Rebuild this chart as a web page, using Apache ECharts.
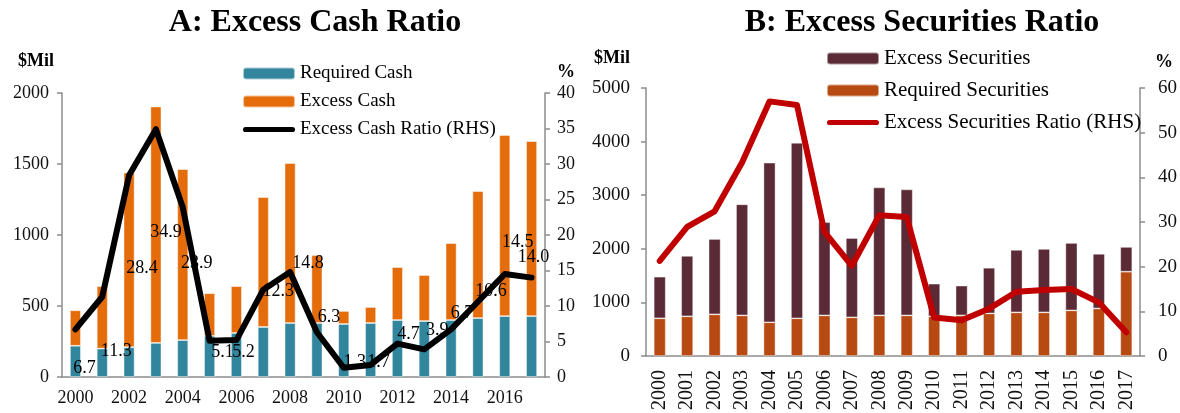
<!DOCTYPE html>
<html lang="en">
    <head>
        <meta charset="UTF-8">
        <title>Excess Cash and Securities Ratios</title>
        <style>
            *{ margin: 0; padding: 0; }
            body{ background: #fff; }
            #chart{ width: 1180px; height: 413px; }
        </style>
        <script src="https://cdn.jsdelivr.net/npm/echarts@6/dist/echarts.min.js"></script>
    </head>
    <body>
        <div id="chart"></div>
        <script>
            // data
            var years = ['2000','2001','2002','2003','2004','2005','2006','2007','2008',
                         '2009','2010','2011','2012','2013','2014','2015','2016','2017'];

            // Panel A ($Mil, %)
            var requiredCash = [220, 200, 210, 240, 260, 290, 310, 352, 380, 380, 373, 380, 401, 394, 401, 415, 429, 429];
            var excessCash   = [250, 440, 1230, 1665, 1204, 300, 330, 915, 1127, 479, 92, 113, 373, 324, 542, 894, 1275, 1232];
            var excessCashRatio = [6.7, 11.3, 28.4, 34.9, 23.9, 5.1, 5.2, 12.3, 14.8, 6.3, 1.3, 1.7, 4.7, 3.9, 6.7, 10.6, 14.5, 14.0];

            // Panel B ($Mil, %)
            var requiredSec = [703, 740, 777, 758, 629, 703, 758, 721, 758, 758, 740, 758, 795, 814, 814, 851, 888, 1573];
            var excessSec   = [777, 1128, 1406, 2072, 2978, 3274, 1739, 1480, 2387, 2350, 610, 555, 851, 1166, 1184, 1258, 1018, 462];
            var excessSecRatio = [21.3, 28.9, 32.4, 43.3, 57.0, 56.2, 27.8, 20.2, 31.5, 31.1, 8.6, 8.0, 10.6, 14.4, 14.8, 15.0, 12.0, 5.3];

            // label nudges for the ratio labels in panel A (px, layout only)
            var ratioLabelShift = [[9,39],[14,54],[13,93],[10,103],[14,56],[13,11],[7,12],[15,2],[18,-9],
                                   [12,-15],[11,-6],[8,-3],[11,-9],[13,-19],[11,-16],[13,-10],[13,-32],[2,-20]];

            var serif = '"Liberation Serif", "Times New Roman", serif';
            var axisGray = '#8c8c8c';
            var lineIcon = 'path://M5 0H95A5 5 0 0 1 95 10H5A5 5 0 0 1 5 0Z';

            function valueAxis(grid, min, max, step, pos, margin, size){
                return {
                    type: 'value', gridIndex: grid, position: pos,
                    min: min, max: max, interval: step,
                    axisLine: { show: true, lineStyle: { color: axisGray, width: 1.5 } },
                    axisTick: { show: true, length: 5, lineStyle: { color: axisGray, width: 1.5 } },
                    axisLabel: { color: '#111', fontFamily: serif, fontSize: size, margin: margin,
                                 formatter: function (v) { return String(v); } },
                    splitLine: { show: false }
                };
            }

            var chart = echarts.init(document.getElementById('chart'));
            var option = {
                animation: false,
                textStyle: { fontFamily: serif },
                title: [
                    { text: 'A: Excess Cash Ratio', left: 310, top: 2, textAlign: 'center',
                      textStyle: { fontFamily: serif, fontSize: 32, fontWeight: 'bold', color: '#000' } },
                    { text: 'B: Excess Securities Ratio', left: 917, top: 2, textAlign: 'center',
                      textStyle: { fontFamily: serif, fontSize: 32, fontWeight: 'bold', color: '#000' } }
                ],
                legend: [{
                    left: 237, top: 59, orient: 'vertical', itemWidth: 52, itemHeight: 12, itemGap: 9,
                    textStyle: { fontFamily: serif, fontSize: 19, color: '#000' },
                    data: ['Required Cash', 'Excess Cash', { name: 'Excess Cash Ratio (RHS)', icon: lineIcon }]
                },{
                    left: 821, top: 43, orient: 'vertical', itemWidth: 52, itemHeight: 12, itemGap: 11,
                    textStyle: { fontFamily: serif, fontSize: 21, color: '#000' },
                    data: ['Excess Securities', 'Required Securities', { name: 'Excess Securities Ratio (RHS)', icon: lineIcon }]
                }],
                graphic: [
                    { type: 'text', left: 18, top: 52, style: { text: '$Mil', font: 'bold 18px ' + serif, fill: '#000' } },
                    { type: 'text', left: 557, top: 63, style: { text: '%', font: 'bold 18px ' + serif, fill: '#000' } },
                    { type: 'text', left: 594, top: 49, style: { text: '$Mil', font: 'bold 18px ' + serif, fill: '#000' } },
                    { type: 'text', left: 1155, top: 53, style: { text: '%', font: 'bold 18px ' + serif, fill: '#000' } }
                ],
                grid: [
                    { left: 62, top: 93, width: 483, height: 284 },
                    { left: 646, top: 88, width: 501, height: 270 }
                ],
                xAxis: [{
                    type: 'category', gridIndex: 0, data: years,
                    axisLine: { lineStyle: { color: axisGray, width: 1.5 } },
                    axisTick: { interval: 0, length: 5, lineStyle: { color: axisGray, width: 1.5 } },
                    axisLabel: { interval: 1, color: '#111', fontFamily: serif, fontSize: 18, margin: 12 }
                },{
                    type: 'category', gridIndex: 1, data: years,
                    axisLine: { lineStyle: { color: axisGray, width: 1.5 } },
                    axisTick: { interval: 0, length: 5, lineStyle: { color: axisGray, width: 1.5 } },
                    axisLabel: { interval: 0, rotate: 90, color: '#111', fontFamily: serif, fontSize: 20, margin: 14 }
                }],
                yAxis: [
                    valueAxis(0, 0, 2000, 500, 'left', 13, 18),
                    valueAxis(0, 0, 40, 5, 'right', 12, 18),
                    valueAxis(1, 0, 5000, 1000, 'left', 16, 19),
                    valueAxis(1, 0, 60, 10, 'right', 18, 19)
                ],
                series: [{
                    name: 'Required Cash', type: 'bar', stack: 'cash', xAxisIndex: 0, yAxisIndex: 0,
                    barWidth: 11, data: requiredCash,
                    itemStyle: { color: '#31859C', borderColor: 'rgba(255,255,255,0.6)', borderWidth: 0.8 }
                },{
                    name: 'Excess Cash', type: 'bar', stack: 'cash', xAxisIndex: 0, yAxisIndex: 0,
                    barWidth: 11, data: excessCash,
                    itemStyle: { color: '#E46C0A', borderColor: 'rgba(255,255,255,0.6)', borderWidth: 0.8 }
                },{
                    name: 'Excess Cash Ratio (RHS)', type: 'line', xAxisIndex: 0, yAxisIndex: 1,
                    symbol: 'circle', symbolSize: 1, showSymbol: true, z: 5,
                    lineStyle: { color: '#000', width: 6, cap: 'round', join: 'round' },
                    itemStyle: { color: '#000' },
                    data: excessCashRatio.map(function (v, i) {
                        return { value: v, label: { offset: ratioLabelShift[i] } };
                    }),
                    label: {
                        show: true, position: 'inside', color: '#000', fontFamily: serif, fontSize: 18,
                        formatter: function (p) { return p.value.toFixed(1); }
                    }
                },{
                    name: 'Required Securities', type: 'bar', stack: 'sec', xAxisIndex: 1, yAxisIndex: 2,
                    barWidth: 12, data: requiredSec,
                    itemStyle: { color: '#B74A12', borderColor: 'rgba(255,255,255,0.5)', borderWidth: 0.8 }
                },{
                    name: 'Excess Securities', type: 'bar', stack: 'sec', xAxisIndex: 1, yAxisIndex: 2,
                    barWidth: 12, data: excessSec,
                    itemStyle: { color: '#5B2A37', borderColor: 'rgba(255,255,255,0.5)', borderWidth: 0.8 }
                },{
                    name: 'Excess Securities Ratio (RHS)', type: 'line', xAxisIndex: 1, yAxisIndex: 3,
                    symbol: 'none', z: 5,
                    lineStyle: { color: '#C00000', width: 6, cap: 'round', join: 'round' },
                    itemStyle: { color: '#C00000' },
                    data: excessSecRatio
                }]
            };
            chart.setOption(option);
        </script>
    </body>
</html>
